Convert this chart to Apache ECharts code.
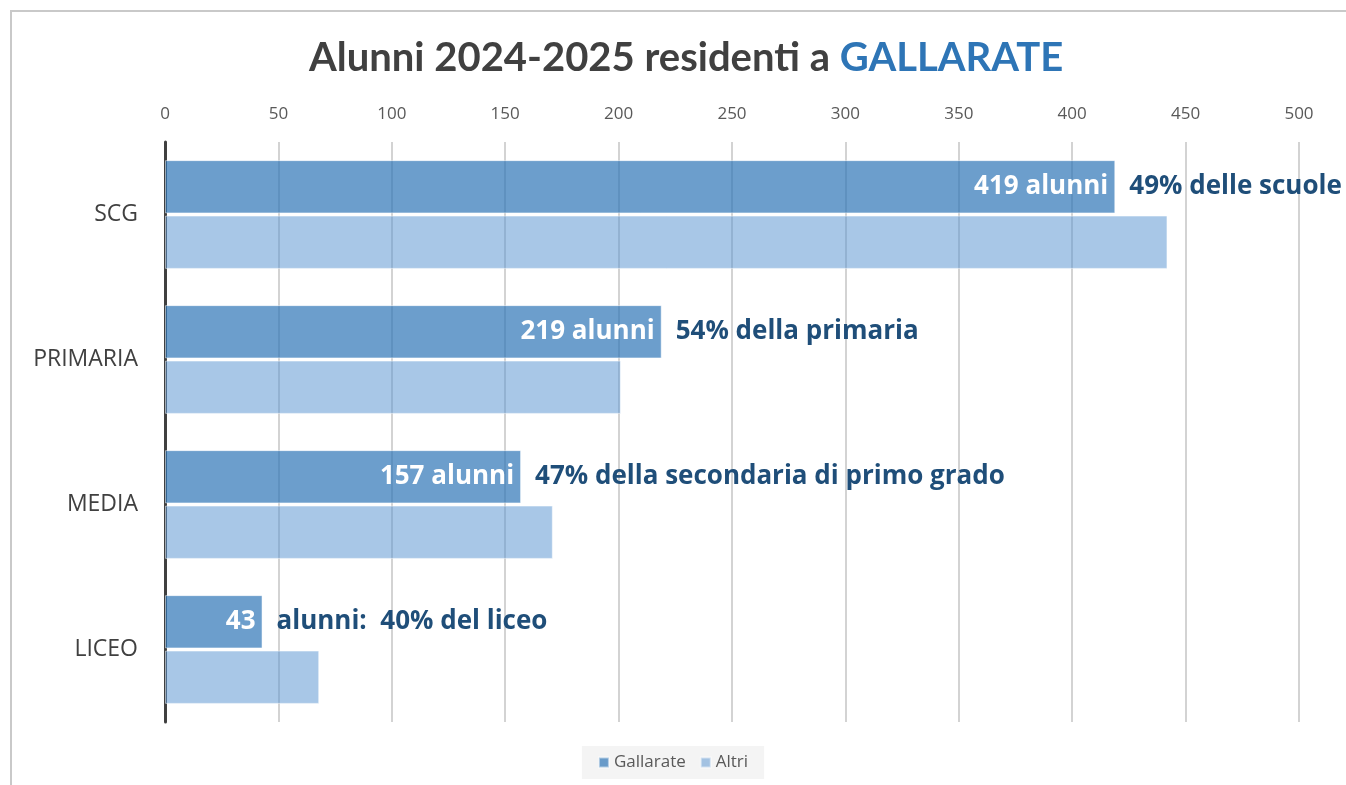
<!DOCTYPE html>
<html>
<head>
<meta charset="utf-8">
<script src="https://cdn.jsdelivr.net/npm/echarts@6/dist/echarts.min.js"></script>
<style>
  html, body { margin: 0; padding: 0; background: #fff; }
  #chart { width: 1346px; height: 785px; }
</style>
</head>
<body>
<div id="chart"></div>
<script>
// dati
var categorie = ['SCG', 'PRIMARIA', 'MEDIA', 'LICEO']
var gallarate = [419, 219, 157, 43]
var altri = [442, 201, 171, 68]
var etichetteDentro = ['419 alunni', '219 alunni', '157 alunni', '43']
var etichetteFuori = ['49% delle scuole', '54% della primaria', '47% della secondaria di primo grado', 'alunni:  40% del liceo']
var tickAsse = [0, 50, 100, 150, 200, 250, 300, 350, 400, 450, 500]

var font = '"Open Sans", sans-serif'
var fontTitolo = 'Lato, sans-serif'

var chart = echarts.init(document.getElementById('chart'))
chart.setOption({
  backgroundColor: '#fff',
  animation: false,
  graphic: [
    {
      type: 'rect',
      shape: { x: 11, y: 11, width: 1400, height: 900 },
      style: { fill: 'none', stroke: '#c9c9c9', lineWidth: 2 },
      z: -1
    }
  ],
  title: {
    text: '{a|Alunni 2024-2025 residenti a }{b|GALLARATE}',
    left: 304,
    top: 33,
    textStyle: {
      rich: {
        a: { fontFamily: fontTitolo, fontSize: 40, fontWeight: 'bold', color: '#404040' },
        b: { fontFamily: fontTitolo, fontSize: 40, fontWeight: 'bold', color: '#2e75b6' }
      }
    }
  },
  legend: {
    data: ['Gallarate', 'Altri'],
    bottom: 6,
    left: 'center',
    icon: 'rect',
    itemWidth: 10,
    itemHeight: 10,
    itemGap: 14,
    padding: [8, 16, 8, 16],
    backgroundColor: '#f4f4f4',
    textStyle: { fontFamily: font, fontSize: 17, color: '#595959' }
  },
  grid: { left: 165, right: 47, top: 142, bottom: 63, containLabel: false },
  xAxis: {
    type: 'value',
    position: 'top',
    min: tickAsse[0],
    max: tickAsse[tickAsse.length - 1],
    interval: 50,
    axisLine: { show: false },
    axisTick: { show: false },
    axisLabel: { fontFamily: font, fontSize: 17, color: '#595959', margin: 19 },
    splitLine: { lineStyle: { color: '#c4c4c4', width: 1.5 } }
  },
  yAxis: {
    type: 'category',
    inverse: true,
    data: categorie,
    axisLine: { show: true, lineStyle: { color: '#404040', width: 3 } },
    axisTick: { show: false },
    axisLabel: { fontFamily: font, fontSize: 23, color: '#404040', margin: 27 }
  },
  series: [
    {
      name: 'Gallarate',
      type: 'bar',
      stack: 'g',
      data: gallarate,
      barCategoryGap: '25%',
      barGap: '4%',
      itemStyle: { color: 'rgba(46,117,182,0.7)', borderColor: 'rgba(255,255,255,0.5)', borderWidth: 1 },
      label: {
        show: true,
        position: 'insideRight',
        distance: 7,
        formatter: function (p) { return etichetteDentro[p.dataIndex] },
        fontFamily: font,
        fontSize: 26,
        fontWeight: 'bold',
        color: '#fff'
      }
    },
    {
      name: 'testo',
      type: 'bar',
      stack: 'g',
      data: [0, 0, 0, 0],
      itemStyle: { color: 'rgba(0,0,0,0)' },
      label: {
        show: true,
        position: 'right',
        distance: 14,
        formatter: function (p) { return etichetteFuori[p.dataIndex] },
        fontFamily: font,
        fontSize: 26,
        fontWeight: 'bold',
        color: '#1f4e79'
      }
    },
    {
      name: 'Altri',
      type: 'bar',
      data: altri,
      barCategoryGap: '25%',
      barGap: '4%',
      itemStyle: { color: 'rgba(91,150,210,0.53)', borderColor: 'rgba(255,255,255,0.5)', borderWidth: 1 }
    }
  ]
})
</script>
</body>
</html>
